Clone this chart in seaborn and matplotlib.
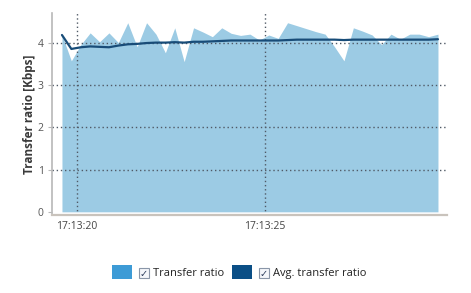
import numpy as np
import pandas as pd
import matplotlib
matplotlib.use("Agg")
import matplotlib.pyplot as plt
import seaborn as sns
from matplotlib.patches import Rectangle

# ---- data ----
start_seconds = 19.6          # seconds after 17:13:00 of first sample
sample_step = 0.25            # seconds between samples
transfer = [4.18, 3.57, 3.95, 4.23, 4.02, 4.23, 4.00, 4.47, 3.90, 4.47,
            4.20, 3.76, 4.35, 3.55, 4.35, 4.25, 4.14, 4.35, 4.22, 4.17,
            4.20, 4.06, 4.18, 4.10, 4.47, 4.40, 4.33, 4.26, 4.20, 3.90,
            3.57, 4.35, 4.27, 4.18, 3.95, 4.20, 4.08, 4.20, 4.20, 4.14,
            4.20]
avg_transfer = [4.18, 3.85, 3.89, 3.91, 3.90, 3.89, 3.93, 3.96, 3.97, 3.99,
                4.00, 4.00, 4.01, 4.00, 4.02, 4.02, 4.03, 4.04, 4.05, 4.05,
                4.05, 4.05, 4.05, 4.05, 4.06, 4.07, 4.07, 4.07, 4.07, 4.07,
                4.06, 4.07, 4.07, 4.07, 4.07, 4.07, 4.07, 4.07, 4.07, 4.07,
                4.08]
xtick_seconds = [20, 25]
xtick_labels = ["17:13:20", "17:13:25"]
yticks = [0, 1, 2, 3, 4]
series_names = ["Transfer ratio", "Avg. transfer ratio"]

t = start_seconds + sample_step * np.arange(len(transfer))
df = pd.DataFrame({"t": t, "transfer": transfer, "avg": avg_transfer})

# ---- styling ----
sns.set_style("white")
plt.rcParams["font.family"] = ["Open Sans", "DejaVu Sans"]

fill_color = "#9ccbe4"
swatch1 = "#3d9bd6"
line_color = "#184c78"
swatch2 = "#0b4f86"
grid_color = "#505a66"

fig = plt.figure(figsize=(4.71, 2.93), dpi=100)
ax = fig.add_axes([52/471, 1-215/293, (447-52)/471, (215-13)/293])

ax.fill_between(df["t"], 0, df["transfer"], color=fill_color, lw=0, zorder=1)
sns.lineplot(data=df, x="t", y="avg", ax=ax, color=line_color, lw=1.6, zorder=3)

ax.set_xlim(19.335, 29.84)
ax.set_ylim(-0.075, 4.70)
ax.set_xticks(xtick_seconds)
ax.set_xticklabels(xtick_labels)
ax.set_yticks(yticks)
ax.set_yticklabels([str(v) for v in yticks])

for y in yticks[1:]:
    ax.axhline(y, color=grid_color, lw=1.0, ls=(0, (1, 2)), zorder=2)
for x in xtick_seconds:
    ax.axvline(x, color=grid_color, lw=1.0, ls=(0, (1, 2)), zorder=2)

for s in ["top", "right"]:
    ax.spines[s].set_visible(False)
ax.spines["left"].set_color("#b8b8b8")
ax.spines["left"].set_linewidth(1.2)
ax.spines["bottom"].set_color("#c9c3bc")
ax.spines["bottom"].set_linewidth(1.6)

ax.tick_params(axis="y", length=3, width=0.8, color="#b8b8b8", labelsize=7.5,
               labelcolor="#555555", pad=3, left=True)
ax.tick_params(axis="x", length=0, labelsize=7.5, labelcolor="#444444", pad=4)
ax.set_xlabel("")
ax.set_ylabel("Transfer ratio [Kbps]", fontsize=8.5, fontweight="bold",
              color="#3a3a3a", labelpad=1)

# ---- legend (drawn in figure pixel coordinates) ----
W, H = 471, 293
def px_rect(x0, y0, w, h, **kw):
    fig.patches.append(Rectangle((x0/W, 1-(y0+h)/H), w/W, h/H,
                                 transform=fig.transFigure, **kw))

entries = [(112, swatch1, series_names[0]), (232, swatch2, series_names[1])]
for x0, col, name in entries:
    px_rect(x0, 265, 20, 14, facecolor=col, edgecolor="none")
    px_rect(x0+27, 268, 10, 10, facecolor="#f4f6fa", edgecolor="#8a96a8", lw=0.8)
    fig.text((x0+32)/W, 1-273.5/H, "\u2713", fontsize=7, color="#2a3a5a",
             ha="center", va="center", family=["DejaVu Sans"], fontweight="bold")
    fig.text((x0+41)/W, 1-273.5/H, name, fontsize=8, color="#222222",
             ha="left", va="center")

fig.savefig("out.png", dpi=100)
